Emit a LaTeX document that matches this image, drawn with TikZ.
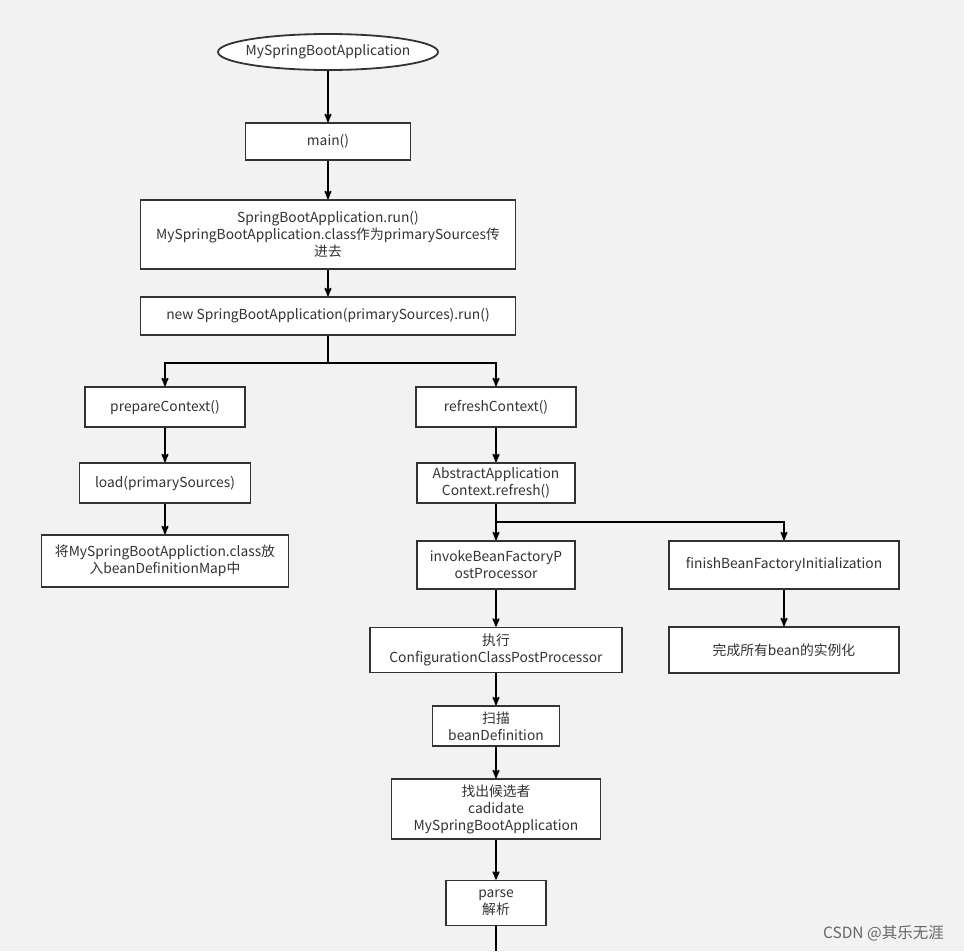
\documentclass[tikz,border=0pt]{standalone}
\usepackage{fontspec}
\setmainfont{Noto Sans CJK SC}
\usepackage{tikz}
\usetikzlibrary{positioning,shapes,arrows,calc}
\definecolor{bg}{HTML}{F2F2F2}
\definecolor{ln}{HTML}{333333}

\begin{document}
\begin{tikzpicture}[->,>=stealth',x=1pt,y=1pt,line width=1.8pt,
                    every node/.style={font=\fontsize{13.8}{17}\selectfont, text=ln, align=center}]
  \tikzstyle{box}=[rectangle, draw=ln, fill=white, inner sep=2pt]
  \tikzstyle{start}=[ellipse, draw=ln, fill=white, inner xsep=-6pt, inner ysep=1pt]

  \fill[bg] (0,0) rectangle (964,-951);
  \useasboundingbox (0,0) rectangle (964,-951);

  % main column
  \node[start, minimum width=220, minimum height=36] (A) at (328,-52) {MySpringBootApplication};
  \node[box, minimum width=165, minimum height=37] (B) [below of = A, node distance=89.5pt] {main()};
  \node[box, minimum width=375, minimum height=69] (C) [below of = B, node distance=93pt]
       {SpringBootApplication.run()\\MySpringBootApplication.class作为primarySources传\\进去};
  \node[box, minimum width=375, minimum height=38] (D) [below of = C, node distance=81.5pt]
       {new SpringBootApplication(primarySources).run()};

  % left branch
  \node[box, minimum width=160, minimum height=40] (E) at (165,-407) {prepareContext()};
  \node[box, minimum width=171, minimum height=40] (G) [below of = E, node distance=76pt] {load(primarySources)};
  \node[box, minimum width=247, minimum height=52] (H) [below of = G, node distance=78pt]
       {将MySpringBootAppliction.class放\\入beanDefinitionMap中};

  % right branch
  \node[box, minimum width=160, minimum height=40] (F) at (496,-407) {refreshContext()};
  \node[box, minimum width=158, minimum height=40] (I) [below of = F, node distance=76pt]
       {AbstractApplication\\Context.refresh()};
  \node[box, minimum width=158, minimum height=48] (J) [below of = I, node distance=82pt]
       {invokeBeanFactoryP\\ostProcessor};
  \node[box, minimum width=252, minimum height=45] (K) [below of = J, node distance=85pt]
       {执行\\ConfigurationClassPostProcessor};
  \node[box, minimum width=127, minimum height=40] (L) [below of = K, node distance=76pt]
       {扫描\\beanDefinition};
  \node[box, minimum width=209, minimum height=60] (M) [below of = L, node distance=83pt]
       {找出候选者\\cadidate\\MySpringBootApplication};
  \node[box, minimum width=100, minimum height=45] (N) [below of = M, node distance=94pt]
       {parse\\解析};

  \node[box, minimum width=230, minimum height=48] (O) at (784,-565) {finishBeanFactoryInitialization};
  \node[box, minimum width=230, minimum height=46] (P) [below of = O, node distance=85pt]
       {完成所有bean的实例化};

  \node[anchor=east, text=gray!80!black, font=\fontsize{15.5}{18}\selectfont] (W) at (948,-933) {CSDN @其乐无涯};

  \coordinate (D1) at ($(D.south)+(0,-27)$);
  \coordinate (I1) at ($(I.south)+(0,-18)$);
  \coordinate (Z) at (N.south |- 0,-951);

  \path (A) edge (B)
        (B) edge (C)
        (C) edge (D)
        (E) edge (G)
        (G) edge (H)
        (F) edge (I)
        (J) edge (K)
        (K) edge (L)
        (L) edge (M)
        (M) edge (N)
        (O) edge (P);

  \draw[-] (D) -- (D1);
  \draw (D1) -| (E);
  \draw (D1) -| (F);
  \draw[-] (I) -- (I1);
  \draw (I1) -- (J);
  \draw (I1) -| (O);
  \draw[-] (N) -- (Z);

\end{tikzpicture}
\end{document}
